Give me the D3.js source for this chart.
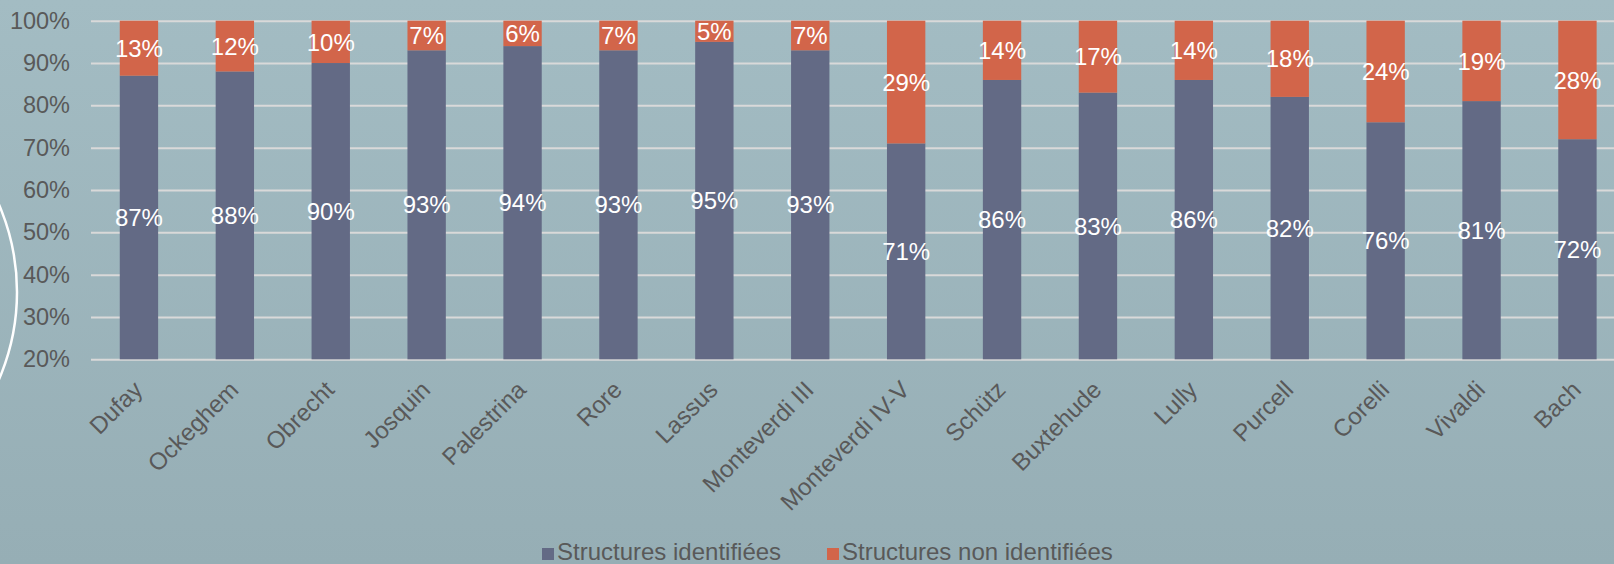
<!DOCTYPE html>
<html>
<head>
<meta charset="utf-8">
<script src="https://cdn.jsdelivr.net/npm/d3@7"></script>
<style>
  html, body { margin: 0; padding: 0; overflow: hidden; }
  svg { display: block; }
  text { font-family: Arial, "Liberation Sans", sans-serif; }
</style>
</head>
<body>
<svg id="chart" width="1614" height="564"></svg>
<script>
const categories = ["Dufay", "Ockeghem", "Obrecht", "Josquin", "Palestrina", "Rore", "Lassus",
  "Monteverdi III", "Monteverdi IV-V", "Schütz", "Buxtehude", "Lully", "Purcell", "Corelli", "Vivaldi", "Bach"];
const identified = [87, 88, 90, 93, 94, 93, 95, 93, 71, 86, 83, 86, 82, 76, 81, 72];
const notIdentified = [13, 12, 10, 7, 6, 7, 5, 7, 29, 14, 17, 14, 18, 24, 19, 28];
const yTicks = [20, 30, 40, 50, 60, 70, 80, 90, 100];
const seriesNames = ["Structures identifiées", "Structures non identifiées"];
const colors = ["#636a85", "#d2654a"];

const W = 1614, H = 564;
const svg = d3.select("#chart");

// background gradient
const defs = svg.append("defs");
const grad = defs.append("linearGradient").attr("id", "bg").attr("x1", 0).attr("y1", 0).attr("x2", 0).attr("y2", 1);
grad.append("stop").attr("offset", "0%").attr("stop-color", "#a3bcc3");
grad.append("stop").attr("offset", "100%").attr("stop-color", "#96aeb5");
svg.append("rect").attr("width", W).attr("height", H).attr("fill", "url(#bg)");

// decorative arc at left edge
svg.append("circle").attr("cx", -204).attr("cy", 292).attr("r", 221)
  .attr("fill", "none").attr("stroke", "#ffffff").attr("stroke-width", 2.5);

const plotLeft = 91, plotTop = 20.7, plotBottom = 359.3;
const step = 95.9;
const x = d3.scaleBand().domain(categories)
  .range([plotLeft, plotLeft + step * categories.length])
  .paddingInner(0.6).paddingOuter(0.3);
const y = d3.scaleLinear().domain([20, 100]).range([plotBottom, plotTop]);

// gridlines + y labels
const yAxis = d3.axisLeft(y).tickValues(yTicks).tickFormat(d => d + "%")
  .tickSize(-(W - plotLeft)).tickPadding(21);
const gy = svg.append("g").attr("transform", `translate(${plotLeft},0)`).call(yAxis);
gy.select(".domain").remove();
gy.selectAll("line").attr("stroke", "#d9d9d9").attr("stroke-width", 2);
gy.selectAll("text").attr("fill", "#595959").style("font-size", "23.5px")
  .style("font-family", "Arial, 'Liberation Sans', sans-serif");

// stacked data
const data = categories.map((c, i) => ({ cat: c, a: identified[i], b: notIdentified[i] }));

const bars = svg.append("g");
// identified (bottom)
bars.selectAll("rect.a").data(data).join("rect").attr("class", "a")
  .attr("x", d => x(d.cat)).attr("width", x.bandwidth())
  .attr("y", d => y(d.a)).attr("height", d => y(20) - y(d.a))
  .attr("fill", colors[0]);
// non identified (top)
bars.selectAll("rect.b").data(data).join("rect").attr("class", "b")
  .attr("x", d => x(d.cat)).attr("width", x.bandwidth())
  .attr("y", d => y(d.a + d.b)).attr("height", d => y(d.a) - y(d.a + d.b))
  .attr("fill", colors[1]);

// data labels
const labels = svg.append("g").attr("fill", "#ffffff").style("font-size", "24px").attr("text-anchor", "middle");
labels.selectAll("text.a").data(data).join("text").attr("class", "a")
  .attr("x", d => x(d.cat) + x.bandwidth() / 2)
  .attr("y", d => (y(20) + y(d.a)) / 2).attr("dy", "0.36em")
  .text(d => d.a + "%");
labels.selectAll("text.b").data(data).join("text").attr("class", "b")
  .attr("x", d => x(d.cat) + x.bandwidth() / 2)
  .attr("y", d => (y(d.a) + y(d.a + d.b)) / 2).attr("dy", "0.36em")
  .text(d => d.b + "%");

// x axis labels
const xAxis = d3.axisBottom(x).tickSize(0).tickPadding(0);
const gx = svg.append("g").attr("transform", `translate(0,${plotBottom})`).call(xAxis);
gx.select(".domain").remove();
gx.selectAll("text").attr("fill", "#595959").style("font-size", "24px")
  .style("font-family", "Arial, 'Liberation Sans', sans-serif")
  .attr("text-anchor", "end").attr("dy", null).attr("y", null)
  .attr("transform", "translate(5,32) rotate(-45)");

// legend
const legend = svg.append("g").style("font-size", "24px").attr("fill", "#595959");
const legendX = [542, 827];
seriesNames.forEach((name, i) => {
  legend.append("rect").attr("x", legendX[i]).attr("y", 548).attr("width", 12).attr("height", 12).attr("fill", colors[i]);
  legend.append("text").attr("x", legendX[i] + 15).attr("y", 560).text(name);
});
</script>
</body>
</html>
